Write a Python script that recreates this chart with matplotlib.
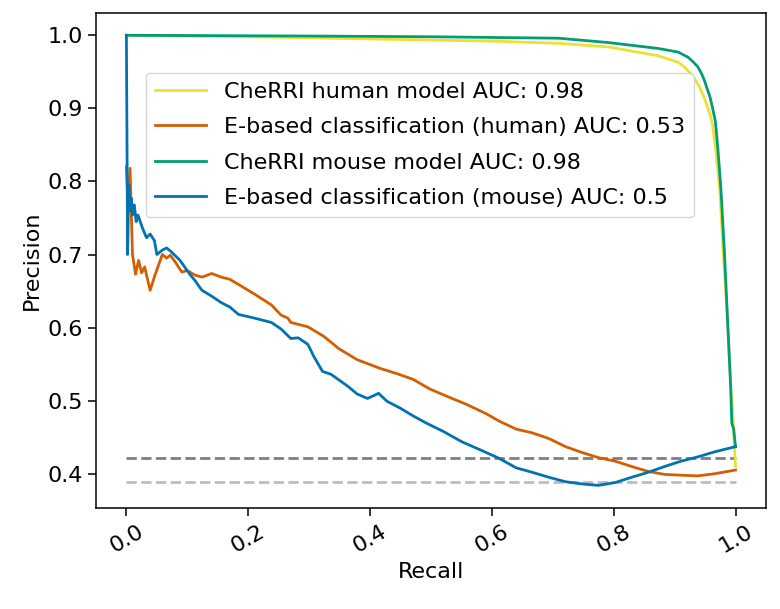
import numpy as np
import matplotlib.pyplot as plt

# CheRRI human model (yellow)
human_rec = [0.0, 0.2, 0.4, 0.6, 0.71, 0.792, 0.873, 0.906, 0.917, 0.927, 0.934,
             0.941, 0.948, 0.954, 0.958, 0.962, 0.968, 0.974, 0.98, 0.987, 0.992,
             0.996, 0.998, 1.0]
human_prec = [1.0, 0.998, 0.995, 0.992, 0.989, 0.984, 0.972, 0.963, 0.956, 0.947,
              0.939, 0.929, 0.916, 0.902, 0.892, 0.879, 0.84, 0.791, 0.70, 0.61,
              0.52, 0.475, 0.44, 0.41]

# E-based classification (human) (orange)
eh_rec = [0.0, 0.003, 0.006, 0.010, 0.015, 0.020, 0.025, 0.030, 0.039, 0.047, 0.059,
          0.066, 0.072, 0.080, 0.091, 0.100, 0.112, 0.124, 0.140, 0.156, 0.170, 0.184,
          0.21, 0.238, 0.254, 0.265, 0.27, 0.298, 0.324, 0.349, 0.379, 0.417, 0.444,
          0.471, 0.498, 0.526, 0.558, 0.591, 0.612, 0.64, 0.666, 0.694, 0.721, 0.748,
          0.775, 0.803, 0.829, 0.857, 0.884, 0.91, 0.938, 0.966, 1.0]
eh_prec = [0.82, 0.76, 0.818, 0.70, 0.673, 0.692, 0.675, 0.683, 0.651, 0.672, 0.70,
           0.695, 0.699, 0.69, 0.676, 0.678, 0.672, 0.669, 0.674, 0.669, 0.666, 0.659,
           0.646, 0.631, 0.617, 0.613, 0.607, 0.601, 0.588, 0.571, 0.556, 0.544, 0.537,
           0.529, 0.516, 0.506, 0.495, 0.482, 0.472, 0.461, 0.456, 0.448, 0.437, 0.429,
           0.422, 0.417, 0.410, 0.403, 0.399, 0.398, 0.397, 0.400, 0.405]

# CheRRI mouse model (green)
mouse_rec = [0.0, 0.3, 0.5, 0.71, 0.792, 0.873, 0.906, 0.922, 0.93, 0.938, 0.944,
             0.949, 0.953, 0.958, 0.962, 0.967, 0.971, 0.976, 0.982, 0.987, 0.992,
             0.994, 0.997, 1.0]
mouse_prec = [1.0, 0.999, 0.998, 0.996, 0.990, 0.982, 0.977, 0.970, 0.964, 0.957,
              0.948, 0.938, 0.928, 0.916, 0.902, 0.882, 0.845, 0.791, 0.70, 0.61,
              0.52, 0.469, 0.461, 0.437]

# E-based classification (mouse) (blue)
em_rec = [0.0, 0.002, 0.004, 0.006, 0.008, 0.010, 0.013, 0.016, 0.019, 0.026, 0.033,
          0.039, 0.046, 0.050, 0.059, 0.066, 0.072, 0.088, 0.104, 0.112, 0.124, 0.140,
          0.156, 0.170, 0.184, 0.21, 0.238, 0.254, 0.27, 0.282, 0.298, 0.308, 0.322,
          0.336, 0.363, 0.379, 0.396, 0.414, 0.428, 0.449, 0.471, 0.493, 0.52, 0.55,
          0.58, 0.612, 0.64, 0.666, 0.694, 0.721, 0.748, 0.775, 0.803, 0.829, 0.857,
          0.884, 0.91, 0.938, 0.966, 1.0]
em_prec = [1.0, 0.70, 0.795, 0.76, 0.777, 0.754, 0.768, 0.745, 0.754, 0.737, 0.723,
           0.728, 0.719, 0.70, 0.706, 0.709, 0.705, 0.692, 0.673, 0.665, 0.651, 0.643,
           0.634, 0.628, 0.618, 0.613, 0.607, 0.598, 0.585, 0.586, 0.577, 0.560, 0.540,
           0.536, 0.52, 0.509, 0.503, 0.510, 0.499, 0.490, 0.479, 0.469, 0.458, 0.444,
           0.433, 0.421, 0.408, 0.402, 0.395, 0.389, 0.386, 0.384, 0.388, 0.395, 0.402,
           0.41, 0.417, 0.423, 0.43, 0.437]

baselines = [0.422, 0.388]

labels = ['CheRRI human model AUC: 0.98',
          'E-based classification (human) AUC: 0.53',
          'CheRRI mouse model AUC: 0.98',
          'E-based classification (mouse) AUC: 0.5']

plt.rcParams['font.size'] = 16

fig = plt.figure(figsize=(7.8, 6.09), dpi=100)
ax = fig.add_axes([0.123, 0.166, 0.859, 0.813])

ax.plot([0, 1], [baselines[0]] * 2, '--', color='#7f7f7f', lw=2)
ax.plot([0, 1], [baselines[1]] * 2, '--', color='#bdbdbd', lw=2)

ax.plot(human_rec, human_prec, color='#ECE133', lw=2, label=labels[0])
ax.plot(eh_rec, eh_prec, color='#D55E00', lw=2, label=labels[1])
ax.plot(mouse_rec, mouse_prec, color='#029E73', lw=2, label=labels[2])
ax.plot(em_rec, em_prec, color='#0173B2', lw=2, label=labels[3])

ax.set_xlabel('Recall')
ax.set_ylabel('Precision')
ax.set_xticks(np.arange(0, 1.01, 0.2))
ax.set_yticks(np.arange(0.4, 1.01, 0.1))
ax.tick_params(length=6, width=1.1)
for s in ax.spines.values():
    s.set_linewidth(1.1)
plt.setp(ax.get_xticklabels(), rotation=30)

ax.legend(loc='upper left', bbox_to_anchor=(0.0746, 0.879), borderaxespad=0,
          fontsize=16, labelspacing=0.7, handlelength=2.3)

fig.savefig('out.png', dpi=100)
